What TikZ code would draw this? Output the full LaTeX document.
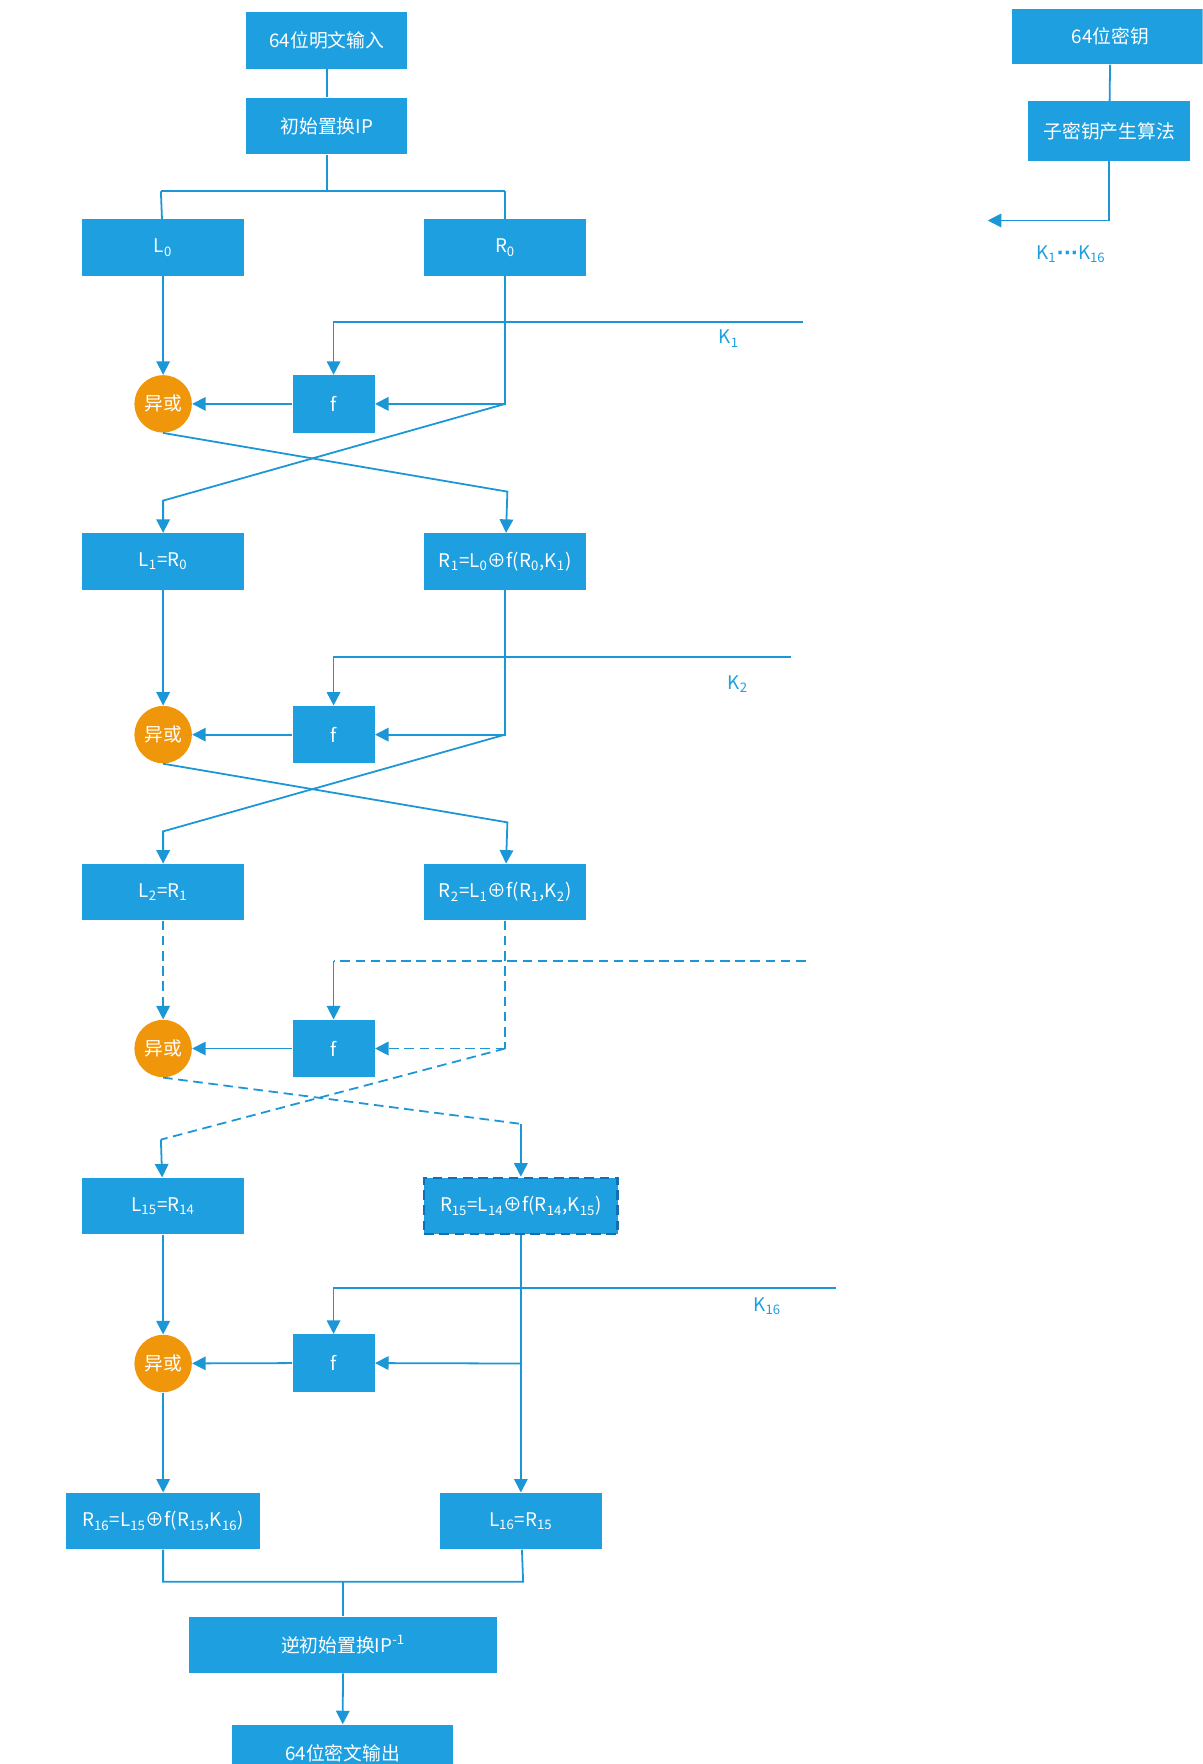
\documentclass[tikz,border=0pt]{standalone}
\usepackage{fontspec}
\setmainfont{Noto Sans CJK SC}
\newfontfamily\symfont{DejaVu Sans}
\usetikzlibrary{arrows.meta}
\definecolor{desblue}{RGB}{30,160,224}
\definecolor{desline}{RGB}{27,150,214}
\definecolor{desdark}{RGB}{20,110,180}
\definecolor{xorange}{RGB}{240,150,10}
\newcommand{\lsub}[1]{\textsubscript{#1}}

\begin{document}
\begin{tikzpicture}[x=0.02cm,y=-0.02cm,font=\fontsize{9.5}{11}\selectfont,
  box/.style={fill=desblue,text=white,inner sep=0pt,minimum width=2.88cm,minimum height=1cm},
  fbox/.style={box,minimum width=1.46cm,minimum height=1.02cm},
  xorc/.style={circle,fill=xorange,text=white,inner sep=0pt,minimum size=1.02cm},
  line/.style={desline,line width=0.9pt},
  arr/.style={line,-{Triangle[length=0.24cm,width=0.24cm]}},
  dline/.style={dash pattern=on 0.17cm off 0.1cm},
  klabel/.style={text=desblue}]
 \useasboundingbox (0,0) rectangle (1069,1568);
 \clip (0,0) rectangle (1069,1568);

 \node[box,minimum width=2.86cm] (in) at (290.5,36) {64位明文输入};
 \node[box,minimum width=2.86cm] (ip) at (290.5,112) {初始置换IP};
 \node[box] (L0) at (145,220) {L\lsub{0}};
 \node[box] (R0) at (449,220) {R\lsub{0}};
 \node[box,minimum width=3.5cm,minimum height=0.98cm] (key) at (987,32.5) {64位密钥};
 \node[box,minimum height=1.06cm] (subkey) at (986,116.5) {子密钥产生算法};
 \node[klabel] (kall) at (952,226) {K\lsub{1}{\symfont\bfseries ···}K\lsub{16}};
 \coordinate (kout) at (878,196);
 \coordinate (split) at (290.5,170);
 \coordinate (splitL) at (143,170);
 \coordinate (splitR) at (449,170);
 \draw[line] (in) -- (ip);
 \draw[line] (ip) -- (split);
 \draw[line] (splitL) -- (splitR);
 \draw[line] (splitL) -- (L0);
 \draw[line] (splitR) -- (R0);
 \draw[line] (key) -- (subkey);
 \draw[arr] (subkey) |- (kout);

 % round 1
 \node[xorc] (x1) at (145,359) {异或};
 \node[fbox] (f1) at (296.5,359) {f};
 \node[box] (L1) at (145,499) {L\lsub{1}=R\lsub{0}};
 \node[box] (R1) at (449,499) {R\lsub{1}=L\lsub{0}⊕f(R\lsub{0},K\lsub{1})};
 \node[klabel] (k1) at (648,301) {K\lsub{1}};
 \coordinate (k1in) at (714,286);
 \coordinate (r0t) at (449,359);
 \coordinate (c1a) at (145,445);
 \coordinate (c1b) at (451,437);
 \draw[arr] (L0) -- (x1);
 \draw[arr] (k1in) -| (f1);
 \draw[arr] (R0) -- (r0t) -- (f1);
 \draw[arr] (f1) -- (x1);
 \draw[arr] (r0t) -- (c1a) -- (L1);
 \draw[arr] (x1.south) -- (c1b) -- (R1);

 % round 2
 \node[xorc] (x2) at (145,653) {异或};
 \node[fbox] (f2) at (296.5,653) {f};
 \node[box] (L2) at (145,793) {L\lsub{2}=R\lsub{1}};
 \node[box] (R2) at (449,793) {R\lsub{2}=L\lsub{1}⊕f(R\lsub{1},K\lsub{2})};
 \node[klabel] (k2) at (656,608) {K\lsub{2}};
 \coordinate (k2in) at (703,584);
 \coordinate (r1t) at (449,653);
 \coordinate (c2a) at (145,739);
 \coordinate (c2b) at (451,731);
 \draw[arr] (L1) -- (x2);
 \draw[arr] (k2in) -| (f2);
 \draw[arr] (R1) -- (r1t) -- (f2);
 \draw[arr] (f2) -- (x2);
 \draw[arr] (r1t) -- (c2a) -- (L2);
 \draw[arr] (x2.south) -- (c2b) -- (R2);

 % rounds 3 ... 15
 \node[xorc] (x3) at (145,932) {异或};
 \node[fbox] (f3) at (296.5,932) {f};
 \node[box] (L15) at (145,1072) {L\lsub{15}=R\lsub{14}};
 \node[box,minimum width=3.44cm,draw=desdark,line width=1.2pt,dline] (R15) at (463,1072) {R\lsub{15}=L\lsub{14}⊕f(R\lsub{14},K\lsub{15})};
 \coordinate (k3in) at (716,854);
 \coordinate (k3c) at (296.5,854);
 \coordinate (r2t) at (449,932);
 \coordinate (c3a) at (143,1013);
 \coordinate (c3b) at (463,999);
 \draw[arr,dline] (L2) -- (x3);
 \draw[line,dline] (k3in) -- (k3c);
 \draw[arr] (k3c) -- (f3);
 \draw[line,dline] (R2) -- (r2t);
 \draw[arr,dline] (r2t) -- (f3);
 \draw[arr] (f3) -- (x3);
 \draw[line,dline] (r2t) -- (c3a);
 \draw[arr] (c3a) -- (L15);
 \draw[line,dline] (x3.south) -- (c3b);
 \draw[arr] (c3b) -- (R15);

 % round 16
 \node[xorc] (x16) at (145,1212) {异或};
 \node[fbox] (f16) at (296.5,1211.5) {f};
 \node[box,minimum width=3.44cm] (R16) at (145,1352) {R\lsub{16}=L\lsub{15}⊕f(R\lsub{15},K\lsub{16})};
 \node[box] (L16) at (463,1352) {L\lsub{16}=R\lsub{15}};
 \node[klabel] (k16) at (682,1161) {K\lsub{16}};
 \coordinate (k16in) at (743,1145);
 \coordinate (r15t) at (463,1212);
 \draw[arr] (L15) -- (x16);
 \draw[arr] (k16in) -| (f16);
 \draw[arr] (R15) -- (L16);
 \draw[arr] (r15t) -- (f16);
 \draw[arr] (f16) -- (x16);
 \draw[arr] (x16) -- (R16);

 \node[box,minimum width=5.48cm] (fp) at (305,1462) {逆初始置换IP\textsuperscript{-1}};
 \node[box,minimum width=3.94cm] (out) at (304.5,1558) {64位密文输出};
 \coordinate (mL) at (145,1406);
 \coordinate (mR) at (465,1406);
 \coordinate (mC) at (305,1406);
 \draw[line] (R16) -- (mL) -- (mR) -- (L16);
 \draw[line] (mC) -- (fp);
 \draw[arr] (fp) -- (out);
\end{tikzpicture}
\end{document}
